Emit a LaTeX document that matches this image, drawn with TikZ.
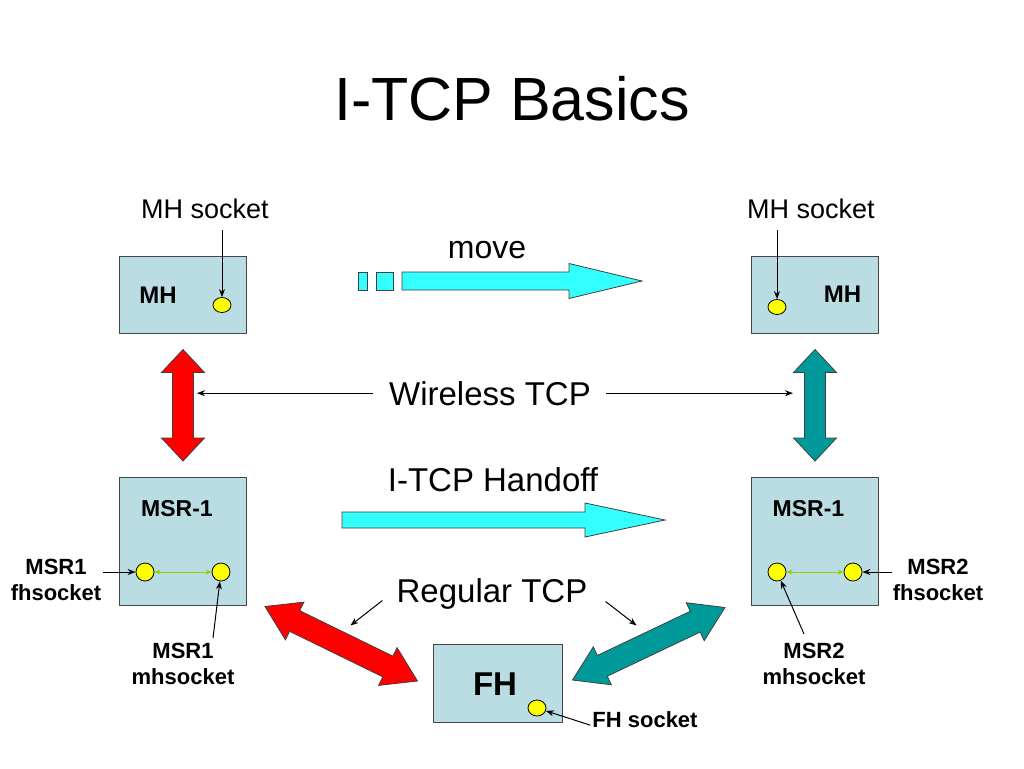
\documentclass[tikz,border=0pt]{standalone}
\usepackage{fontspec}
\setmainfont{Liberation Sans}
\usepackage{tikz}
\usetikzlibrary{shapes.geometric,arrows.meta,positioning,calc}
\definecolor{hostfill}{RGB}{185,221,226}
\definecolor{hostedge}{RGB}{70,70,70}
\definecolor{sockfill}{RGB}{255,255,0}
\definecolor{movecyan}{RGB}{51,255,255}
\definecolor{linkred}{RGB}{255,0,0}
\definecolor{linkteal}{RGB}{0,153,153}
\definecolor{wiregreen}{RGB}{153,204,0}

% fat two-headed link: from, to, fill, head length, head half width, shaft half width
\newcommand{\fatlink}[6]{%
  \path (#1) coordinate (fl-s) (#2) coordinate (fl-e);
  \path ($(fl-s)!#4!(fl-e)$) coordinate (fl-sb) ($(fl-e)!#4!(fl-s)$) coordinate (fl-eb);
  \filldraw[fill=#3, draw=black!75, line width=0.8pt, line join=miter]
    (fl-s) -- ($(fl-sb)!#5!90:(fl-e)$) -- ($(fl-sb)!#6!90:(fl-e)$)
    -- ($(fl-eb)!#6!-90:(fl-s)$) -- ($(fl-eb)!#5!-90:(fl-s)$) -- (fl-e)
    -- ($(fl-eb)!#5!90:(fl-s)$) -- ($(fl-eb)!#6!90:(fl-s)$)
    -- ($(fl-sb)!#6!-90:(fl-e)$) -- ($(fl-sb)!#5!-90:(fl-e)$) -- cycle;
}
% fat one-headed push arrow: tail, tip, fill, head length, head half width, shaft half width
\newcommand{\fatpush}[6]{%
  \path (#1) coordinate (fp-s) (#2) coordinate (fp-e);
  \path ($(fp-e)!#4!(fp-s)$) coordinate (fp-b);
  \filldraw[fill=#3, draw=black!75, line width=0.8pt, line join=miter]
    ($(fp-s)!#6!90:(fp-e)$) -- ($(fp-b)!#6!-90:(fp-s)$) -- ($(fp-b)!#5!-90:(fp-s)$)
    -- (fp-e) -- ($(fp-b)!#5!90:(fp-s)$) -- ($(fp-b)!#6!90:(fp-s)$)
    -- ($(fp-s)!#6!-90:(fp-e)$) -- cycle;
}

\begin{document}
\begin{tikzpicture}[
    x=1pt, y=-1pt,
    hostbox/.style={rectangle, draw=hostedge, fill=hostfill, line width=1pt, inner sep=0pt},
    sock/.style={ellipse, draw=black, fill=sockfill, line width=0.8pt, minimum width=18pt, minimum height=17pt, inner sep=0pt},
    boxname/.style={font=\fontsize{24}{28}\selectfont\bfseries, inner sep=0pt, anchor=base},
    tag/.style={font=\fontsize{22}{26}\selectfont\bfseries, align=center, inner sep=0pt},
    say/.style={font=\fontsize{33}{38}\selectfont, inner sep=0pt, anchor=base},
    ptr/.style={-{Stealth[length=8pt,width=6pt]}, line width=1pt},
    wire/.style={{Stealth[length=6pt,width=5pt]}-{Stealth[length=6pt,width=5pt]}, wiregreen, line width=1pt}
]
    \useasboundingbox (0,0) rectangle (1024,768);
    \fill[white] (0,0) rectangle (1024,768);

    \node[font=\fontsize{61}{70}\selectfont, inner sep=0pt, anchor=base] (title) at (512,120) {I-TCP Basics};

    % mobile host, before and after the move
    \node[hostbox, minimum width=127pt, minimum height=77pt] (mhL) at (183,294.5) {};
    \node[boxname] (mhLname) at (158,303) {MH};
    \node[sock, minimum height=15pt] (mhLsock) at (222,305) {};
    \node[say, font=\fontsize{27}{32}\selectfont] (mhLlbl) at (205,218) {MH socket};
    \draw[ptr] ($(mhLlbl.south -| mhLsock)+(0,12)$) -- (mhLsock);

    \node[hostbox, minimum width=127pt, minimum height=77pt] (mhR) at (815,294.5) {};
    \node[boxname] (mhRname) at (842.5,302) {MH};
    \node[sock, minimum height=15pt] (mhRsock) at (777,307) {};
    \node[say, font=\fontsize{27}{32}\selectfont] (mhRlbl) at (811,218) {MH socket};
    \draw[ptr] ($(mhRlbl.south -| mhRsock)+(0,12)$) -- (mhRsock);

    \node[say, font=\fontsize{32}{38}\selectfont] (movelbl) at (487,258) {move};
    \filldraw[fill=movecyan, draw=black!75, line width=0.8pt] (358,272) rectangle (367,290);
    \filldraw[fill=movecyan, draw=black!75, line width=0.8pt] (376,272) rectangle (393,290);
    \fatpush{402,281}{642,281}{movecyan}{73pt}{17.5pt}{9pt}

    % wireless links
    \fatlink{[yshift=-16pt]mhL.south}{[yshift=16pt]mhL.south |- 0,477}{linkred}{23pt}{21.5pt}{10.5pt}
    \fatlink{[yshift=-16pt]mhR.south}{[yshift=16pt]mhR.south |- 0,477}{linkteal}{23pt}{21.5pt}{10.5pt}
    \node[say] (wlbl) at (490,405) {Wireless TCP};
    \draw[ptr] ([xshift=-16pt]wlbl.west) -- ($(wlbl.west -| mhL.south)+(14,0)$);
    \draw[ptr] ([xshift=15pt]wlbl.east) -- ($(wlbl.east -| mhR.south)+(-22,0)$);

    % support routers
    \node[hostbox, minimum width=127pt, minimum height=128pt] (msrL) at (183,541) {};
    \node[boxname, font=\fontsize{23}{28}\selectfont\bfseries] (msrLname) at (177,516) {MSR-1};
    \node[sock, minimum width=18pt, minimum height=18pt] (msrLa) at (145,572) {};
    \node[sock, minimum width=18pt, minimum height=18pt] (msrLb) at (221,572) {};
    \draw[wire] (msrLa) -- (msrLb);
    \node[tag, anchor=north] (fhLlbl) at (56,559) {MSR1\\fhsocket};
    \node[tag, anchor=north] (mhLtag) at (183,643) {MSR1\\mhsocket};
    \draw[ptr] ($(fhLlbl.east |- msrLa)+(2,0)$) -- (msrLa);
    \draw[ptr] ($(mhLtag.north)+(30,-5)$) -- (msrLb);

    \node[hostbox, minimum width=127pt, minimum height=128pt] (msrR) at (815,541) {};
    \node[boxname, font=\fontsize{23}{28}\selectfont\bfseries] (msrRname) at (808.5,516) {MSR-1};
    \node[sock, minimum width=18pt, minimum height=18pt] (msrRa) at (777,572) {};
    \node[sock, minimum width=18pt, minimum height=18pt] (msrRb) at (853,572) {};
    \draw[wire] (msrRa) -- (msrRb);
    \node[tag, anchor=north] (fhRlbl) at (938,559) {MSR2\\fhsocket};
    \node[tag, anchor=north] (mhRtag) at (814,643) {MSR2\\mhsocket};
    \draw[ptr] ($(fhRlbl.west |- msrRb)+(-1,0)$) -- (msrRb);
    \draw[ptr] ($(mhRtag.north)+(-10,-9)$) -- (msrRa);

    \node[say] (holbl) at (493,491) {I-TCP Handoff};
    \fatpush{342,520}{665,520}{movecyan}{80pt}{17pt}{8pt}

    % fixed host
    \node[hostbox, minimum width=129pt, minimum height=78pt] (fh) at (497.5,683) {};
    \node[boxname, font=\fontsize{33}{38}\selectfont\bfseries] (fhname) at (495,695) {FH};
    \node[sock, minimum height=16pt] (fhsock) at (537,708) {};
    \node[tag, anchor=base] (fhlbl) at (645,727) {FH socket};
    \draw[ptr] ($(fhlbl.west)+(-2,6)$) -- (fhsock);

    % wired links
    \node[say] (rlbl) at (492,602) {Regular TCP};
    \draw[ptr] ($(rlbl.west)+(-14,7)$) -- ++(-32,25);
    \draw[ptr] ($(rlbl.east)+(18,8)$) -- ++(31,24);
    \fatlink{$(msrL.south east)+(18,1)$}{$(fh.west)+(-15,-2)$}{linkred}{33pt}{21pt}{11.5pt}
    \fatlink{$(msrR.south west)+(-26,2)$}{$(fh.east)+(10,-3)$}{linkteal}{33pt}{21pt}{11.5pt}
\end{tikzpicture}
\end{document}
